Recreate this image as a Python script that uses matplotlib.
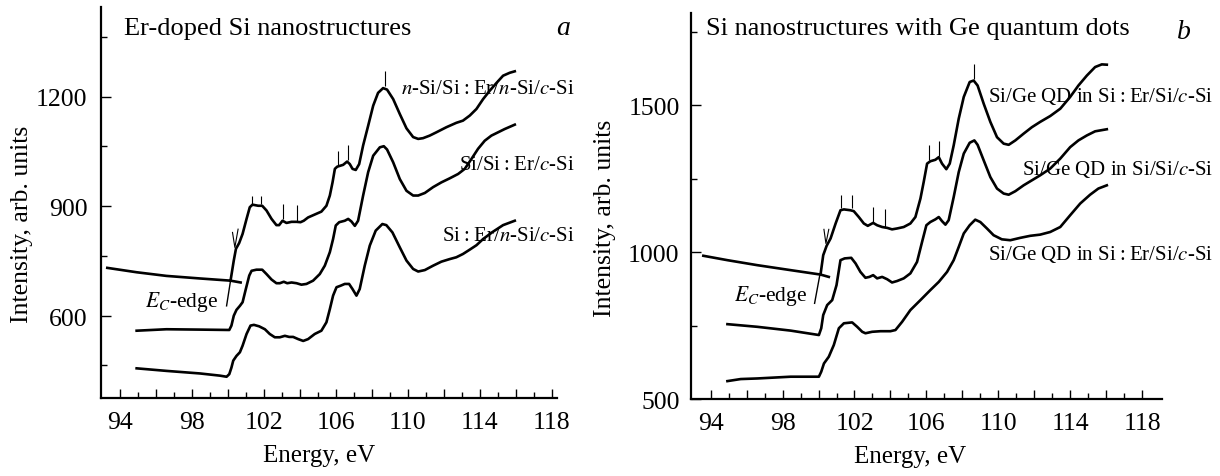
import matplotlib
matplotlib.use('Agg')
from matplotlib import pyplot as plt
from matplotlib.ticker import FixedLocator, FuncFormatter

plt.rcParams['font.family'] = ['Liberation Serif', 'DejaVu Serif']
plt.rcParams['mathtext.fontset'] = 'stix'

# ---- panel a: Er-doped Si nanostructures ----
a1_e = [93.30, 94.93, 96.59, 98.45, 100.15, 100.33, 100.45, 100.63, 100.82, 101.04, 101.22, 101.37,
        101.69, 101.91, 102.15, 102.43, 102.70, 102.85, 103.04, 103.26, 103.54, 103.82, 104.04, 104.22,
        104.46, 104.83, 105.20, 105.48, 105.67, 105.82, 105.95, 106.08, 106.41, 106.63, 106.78, 106.93,
        107.11, 107.30, 107.52, 107.80, 108.08, 108.35, 108.63, 108.85, 109.19, 109.56, 109.93, 110.30,
        110.58, 110.85, 111.22, 111.59, 112.15, 112.70, 113.07, 113.45, 113.82, 114.19, 114.56, 114.93,
        115.30, 115.67, 115.95]
a1_i = [732, 720, 710, 703, 697, 752, 784, 800, 825, 866, 898, 905,
        902, 902, 889, 866, 849, 849, 861, 855, 858, 858, 857, 861,
        870, 878, 886, 902, 930, 966, 1003, 1009, 1014, 1023, 1016, 1003,
        1000, 1016, 1067, 1121, 1176, 1211, 1224, 1220, 1194, 1153, 1114, 1090,
        1085, 1087, 1094, 1103, 1117, 1129, 1135, 1149, 1167, 1194, 1217, 1238,
        1258, 1266, 1270]
a1_bg_e = [100.15, 100.71]
a1_bg_i = [697, 692]

a2_e = [94.93, 96.59, 98.45, 100.08, 100.20, 100.33, 100.48, 100.67, 100.82, 101.00, 101.19, 101.32,
        101.59, 101.91, 102.15, 102.43, 102.70, 102.89, 103.11, 103.30, 103.54, 103.82, 104.09, 104.37,
        104.74, 105.11, 105.39, 105.67, 105.85, 106.00, 106.19, 106.50, 106.69, 106.87, 107.06, 107.24,
        107.52, 107.80, 108.08, 108.45, 108.67, 108.85, 109.19, 109.56, 109.93, 110.30, 110.58, 110.95,
        111.41, 111.87, 112.33, 112.80, 113.17, 113.54, 113.91, 114.28, 114.65, 115.02, 115.39, 115.95]
a2_i = [560, 564, 563, 562, 574, 601, 617, 628, 638, 674, 711, 724,
        727, 727, 715, 700, 690, 690, 694, 690, 692, 690, 686, 688,
        697, 715, 738, 775, 811, 848, 857, 861, 866, 859, 847, 861,
        930, 994, 1039, 1062, 1065, 1056, 1021, 975, 943, 930, 930, 937,
        953, 966, 977, 989, 1003, 1030, 1058, 1080, 1094, 1103, 1112, 1124]

a3_e = [94.93, 96.59, 98.45, 99.56, 99.93, 100.08, 100.20, 100.30, 100.48, 100.67, 100.82, 101.04,
        101.26, 101.45, 101.74, 102.06, 102.33, 102.61, 102.89, 103.17, 103.41, 103.63, 103.91, 104.19,
        104.46, 104.83, 105.20, 105.48, 105.67, 105.85, 106.04, 106.26, 106.50, 106.74, 106.93, 107.15,
        107.33, 107.61, 107.89, 108.22, 108.59, 108.81, 109.15, 109.56, 109.93, 110.30, 110.58, 110.95,
        111.41, 111.87, 112.33, 112.70, 113.07, 113.45, 113.82, 114.19, 114.74, 115.30, 115.95]
a3_i = [457, 450, 443, 437, 434, 441, 459, 478, 491, 501, 519, 551,
        574, 576, 572, 564, 551, 542, 542, 546, 543, 543, 537, 532,
        537, 551, 560, 583, 619, 656, 679, 683, 688, 688, 674, 656,
        674, 738, 793, 834, 852, 849, 829, 788, 752, 729, 722, 726,
        738, 749, 756, 761, 770, 782, 794, 811, 831, 849, 861]

a_edge_e = [99.93, 100.15]
a_edge_i = [628, 697]
a_v_e = [100.26, 100.39, 100.57]
a_v_i = [829, 788, 838]
a_mark_e = [101.32, 101.87, 103.04, 103.82, 106.13, 106.69, 108.76]
a_mark_lo = [906, 906, 866, 861, 1012, 1026, 1231]
a_mark_hi = [930, 930, 907, 905, 1053, 1068, 1270]

# ---- panel b: Si nanostructures with Ge quantum dots ----
b1_e = [93.59, 94.93, 96.59, 98.45, 100.11, 100.26, 100.45, 100.67, 100.95, 101.22, 101.41, 101.78,
        101.96, 102.24, 102.52, 102.74, 103.04, 103.26, 103.54, 103.82, 104.09, 104.37, 104.74, 105.11,
        105.39, 105.67, 105.85, 106.04, 106.22, 106.50, 106.69, 106.87, 107.11, 107.30, 107.52, 107.80,
        108.08, 108.41, 108.63, 108.85, 109.19, 109.56, 109.93, 110.30, 110.58, 110.95, 111.41, 111.87,
        112.33, 112.89, 113.45, 114.00, 114.46, 114.93, 115.39, 115.76, 116.04]
b1_i = [988, 973, 956, 939, 924, 990, 1022, 1047, 1098, 1143, 1146, 1143,
        1140, 1120, 1098, 1090, 1100, 1092, 1086, 1083, 1078, 1081, 1086, 1098,
        1120, 1183, 1239, 1302, 1310, 1315, 1324, 1302, 1283, 1302, 1364, 1455,
        1529, 1580, 1585, 1568, 1506, 1444, 1392, 1370, 1366, 1381, 1404, 1426,
        1444, 1464, 1489, 1529, 1568, 1602, 1631, 1640, 1639]
b1_bg_e = [100.11, 100.57]
b1_bg_i = [924, 916]

b2_e = [94.93, 96.59, 98.45, 100.02, 100.15, 100.26, 100.48, 100.76, 101.00, 101.22, 101.45, 101.82,
        102.06, 102.33, 102.61, 102.83, 103.04, 103.26, 103.54, 103.82, 104.09, 104.37, 104.74, 105.11,
        105.48, 105.76, 106.00, 106.22, 106.50, 106.69, 106.87, 107.06, 107.24, 107.52, 107.80, 108.08,
        108.41, 108.67, 108.85, 109.19, 109.56, 109.93, 110.30, 110.58, 110.95, 111.41, 111.87, 112.33,
        112.89, 113.45, 114.00, 114.46, 114.93, 115.39, 116.04]
b2_i = [755, 746, 733, 718, 741, 786, 820, 837, 888, 973, 979, 981,
        962, 933, 913, 916, 922, 911, 916, 908, 897, 902, 911, 928,
        967, 1035, 1092, 1103, 1112, 1120, 1106, 1094, 1109, 1188, 1273, 1336,
        1373, 1381, 1366, 1313, 1256, 1217, 1200, 1196, 1208, 1228, 1245, 1262,
        1285, 1319, 1358, 1381, 1398, 1412, 1419]

b3_e = [94.93, 95.67, 96.59, 97.52, 98.45, 99.37, 100.02, 100.15, 100.30, 100.57, 100.85, 101.13,
        101.41, 101.87, 102.15, 102.43, 102.61, 102.98, 103.45, 104.00, 104.28, 104.65, 105.11, 105.67,
        106.22, 106.69, 107.15, 107.52, 107.80, 108.08, 108.41, 108.72, 109.00, 109.37, 109.74, 110.20,
        110.67, 111.22, 111.78, 112.33, 112.89, 113.45, 114.00, 114.56, 115.11, 115.57, 116.04]
b3_i = [561, 568, 570, 573, 576, 576, 576, 593, 621, 644, 684, 741,
        758, 761, 746, 729, 724, 729, 731, 731, 735, 763, 803, 837,
        871, 899, 933, 973, 1018, 1064, 1092, 1111, 1103, 1081, 1058, 1044,
        1041, 1049, 1056, 1060, 1069, 1086, 1126, 1166, 1196, 1217, 1228]

b_edge_e = [99.78, 100.07]
b_edge_i = [826, 922]
b_v_e = [100.30, 100.41, 100.57]
b_v_i = [1078, 1030, 1078]
b_mark_e = [101.26, 101.85, 103.04, 103.67, 106.13, 106.69, 108.67]
b_mark_lo = [1151, 1151, 1103, 1086, 1313, 1328, 1591]
b_mark_hi = [1194, 1194, 1154, 1146, 1364, 1378, 1642]

x_ticks = [94, 96, 98, 100, 102, 104, 106, 108, 110, 112, 114, 116, 118]
x_minor = [95, 97, 99, 101, 103, 105, 107, 109, 111, 113, 115, 117]
a_yticks = [600, 900, 1200]
a_yminor = [465, 765, 1065, 1365]
b_yticks = [500, 1000, 1500]
b_yminor = [750, 1250, 1750]

TH = '\u2009:\u2009'
a_labels = [r'$n$-Si/Si' + TH + r'Er/$n$-Si/$c$-Si', r'Si/Si' + TH + r'Er/$c$-Si', r'Si' + TH + r'Er/$n$-Si/$c$-Si']
a_label_y = [1222, 1016, 820]
b_labels = [r'Si/Ge QD in Si' + TH + r'Er/Si/$c$-Si', r'Si/Ge QD in Si/Si/$c$-Si', r'Si/Ge QD in Si' + TH + r'Er/Si/$c$-Si']
b_label_y = [1534, 1287, 996]

fig = plt.figure(figsize=(12.2, 4.77), dpi=100)
ax_a = fig.add_axes([0.0825, 0.1629, 0.3741, 0.8203])
ax_b = fig.add_axes([0.5662, 0.1614, 0.3861, 0.8092])


def style_axes(ax, yticks, yminor, ypad):
    for s in ('top', 'right'):
        ax.spines[s].set_visible(False)
    for s in ('left', 'bottom'):
        ax.spines[s].set_linewidth(1.6)
    ax.xaxis.set_major_locator(FixedLocator(x_ticks))
    ax.xaxis.set_minor_locator(FixedLocator(x_minor))
    ax.xaxis.set_major_formatter(FuncFormatter(lambda x, p: '%d' % x if (x - 94) % 4 == 0 else ''))
    ax.yaxis.set_major_locator(FixedLocator(yticks))
    ax.yaxis.set_minor_locator(FixedLocator(yminor))
    ax.tick_params(axis='x', which='major', direction='in', length=6.5, width=1, labelsize=18.5, pad=9)
    ax.tick_params(axis='x', which='minor', direction='in', length=4, width=1)
    ax.tick_params(axis='y', which='major', direction='in', length=7, width=1, labelsize=18.5, pad=ypad)
    ax.tick_params(axis='y', which='minor', direction='in', length=4.5, width=1)


def draw_curve(ax, e, i):
    ax.plot(e, i, color='black', lw=1.9, solid_joinstyle='round')


for e, i in [(a1_e, a1_i), (a2_e, a2_i), (a3_e, a3_i), (a1_bg_e, a1_bg_i)]:
    draw_curve(ax_a, e, i)
ax_a.plot(a_edge_e, a_edge_i, color='black', lw=1.0)
ax_a.plot(a_v_e, a_v_i, color='black', lw=0.8)
ax_a.vlines(a_mark_e, a_mark_lo, a_mark_hi, color='black', lw=0.8)

for e, i in [(b1_e, b1_i), (b2_e, b2_i), (b3_e, b3_i), (b1_bg_e, b1_bg_i)]:
    draw_curve(ax_b, e, i)
ax_b.plot(b_edge_e, b_edge_i, color='black', lw=1.0)
ax_b.plot(b_v_e, b_v_i, color='black', lw=0.8)
ax_b.vlines(b_mark_e, b_mark_lo, b_mark_hi, color='black', lw=0.8)

ax_a.set_xlim(92.93, 118.3)
ax_a.set_ylim(375, 1446)
ax_b.set_xlim(92.89, 119.1)
ax_b.set_ylim(500, 1815)
style_axes(ax_a, a_yticks, a_yminor, 9.5)
style_axes(ax_b, b_yticks, b_yminor, 8)

for ax, xl, yl in [(ax_a, (0.478, -0.146), (-0.173, 0.448)), (ax_b, (0.466, -0.148), (-0.182, 0.4715))]:
    ax.set_xlabel('Energy, eV', fontsize=18, va='center')
    ax.xaxis.set_label_coords(*xl)
    ax.set_ylabel('Intensity, arb. units', fontsize=18.5, va='center', ha='center')
    ax.yaxis.set_label_coords(*yl)

ax_a.text(94.23, 1389, 'Er-doped Si nanostructures', fontsize=19, va='center', ha='left')
ax_a.text(118.61, 1389, 'a', fontsize=20, style='italic', va='center', ha='center')
for lab, y in zip(a_labels, a_label_y):
    ax_a.text(119.27, y, lab, fontsize=15, va='center', ha='right')
ax_a.text(99.46, 640, r'$E_C$-edge', fontsize=15.5, va='center', ha='right')

ax_b.text(93.76, 1763, 'Si nanostructures with Ge quantum dots', fontsize=19, va='center', ha='left')
ax_b.text(120.33, 1751, 'b', fontsize=20, style='italic', va='center', ha='center')
for lab, y in zip(b_labels, b_label_y):
    ax_b.text(121.96, y, lab, fontsize=15, va='center', ha='right')
ax_b.text(99.35, 854, r'$E_C$-edge', fontsize=15.5, va='center', ha='right')

fig.savefig('out.png', dpi=100, facecolor='white')
